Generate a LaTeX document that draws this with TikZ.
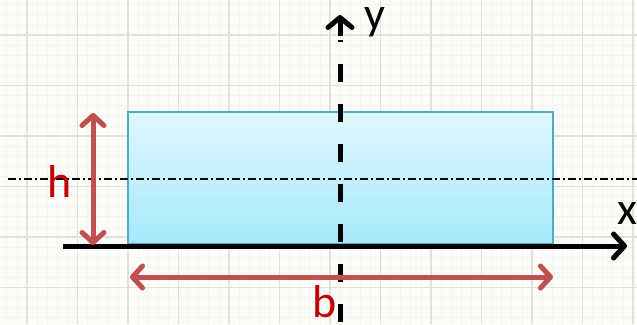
\documentclass[tikz,border=0pt]{standalone}
\usepackage{fontspec}
\setmainfont{Carlito}
\usetikzlibrary{arrows.meta}
\definecolor{bgc}{RGB}{252,252,248}
\definecolor{gridc}{RGB}{224,224,220}
\definecolor{gridm}{RGB}{244,244,240}
\definecolor{dimred}{RGB}{192,80,77}
\definecolor{txtred}{RGB}{192,0,0}
\definecolor{rectedge}{RGB}{75,172,198}
\definecolor{recttop}{RGB}{224,247,254}
\definecolor{rectbot}{RGB}{165,232,251}
\tikzset{
  sectionbox/.style={draw=rectedge, line width=1.5pt, top color=recttop, bottom color=rectbot, inner sep=0pt, minimum width=425pt, minimum height=132pt},
  axisline/.style={line width=5pt, black, -{Straight Barb[length=11pt,width=24pt,round]}},
  dimarrow/.style={line width=5pt, dimred, {Straight Barb[length=10pt,width=22pt,round]}-{Straight Barb[length=10pt,width=22pt,round]}},
  centerline/.style={line width=1.4pt, black, dash pattern=on 8pt off 3pt on 2pt off 3pt},
  lbl/.style={font=\fontsize{46}{46}\selectfont, inner sep=0pt},
}
\begin{document}
\begin{tikzpicture}[x=1pt,y=-1pt]
\useasboundingbox (0,0) rectangle (637,324);
\fill[bgc] (0,0) rectangle (637,324);
% minor grid
\foreach \i in {0,...,64} {\draw[gridm, line width=0.8pt] ({6.8+10.1*\i},0) -- ({6.8+10.1*\i},324);}
\foreach \i in {0,...,32} {\draw[gridm, line width=0.8pt] (0,{4.7+10.1*\i}) -- (637,{4.7+10.1*\i});}
% major grid
\foreach \i in {0,...,12} {\draw[gridc, line width=1.6pt] ({27+50.5*\i},0) -- ({27+50.5*\i},324);}
\foreach \i in {0,...,5} {\draw[gridc, line width=1.6pt] (0,{35+50.5*\i}) -- (637,{35+50.5*\i});}
% section
\node[sectionbox] (sec) at (340.5,178) {};
% centroidal line
\coordinate (cl) at (8,179);
\coordinate (cr) at (637,179);
\draw[centerline] (cl) -- (cr);
% x axis
\coordinate (xs) at (63,246);
\coordinate (xe) at (627,246);
\draw[axisline, black!25, opacity=0.6, shift={(1.5pt,-2pt)}] (xs) -- (xe);
\draw[axisline] (xs) -- (xe);
% y axis
\coordinate (ys) at (340,324);
\coordinate (ye) at (340,15);
\draw[line width=5pt, black, dash pattern=on 18pt off 22pt, dash phase=-2pt] (ys) -- (340,40);
\draw[line width=5pt, black, -{Straight Barb[length=10pt,width=24pt,round]}] (340,36) -- (ye);
% dimension arrows
\coordinate (ht) at (93,113);
\coordinate (hb) at (93,245);
\draw[dimarrow, black!20, opacity=0.5, shift={(1.5pt,-2pt)}] (hb) -- (ht);
\draw[dimarrow] (hb) -- (ht);
\coordinate (bl) at (130,277);
\coordinate (br) at (553,277);
\draw[dimarrow, black!20, opacity=0.5, shift={(1.5pt,-2pt)}] (bl) -- (br);
\draw[dimarrow] (bl) -- (br);
% labels
\node[lbl, text=txtred] (hl) at (60,182) {h};
\node[lbl, text=txtred] (bll) at (325,302) {b};
\node[lbl] (yl) at (375,22) {y};
\node[lbl] (xl) at (627,214) {x};
\end{tikzpicture}
\end{document}
